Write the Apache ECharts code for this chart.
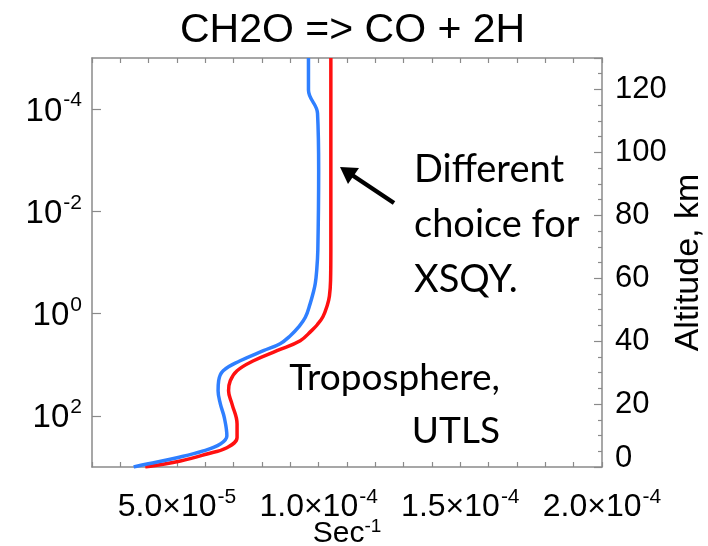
<!DOCTYPE html>
<html><head><meta charset="utf-8">
<script src="https://cdn.jsdelivr.net/npm/echarts@6/dist/echarts.min.js"></script>
<style>html,body{margin:0;padding:0;background:#fff}#c{width:708px;height:546px}</style>
</head><body><div id="c"></div>
<script>
// ---- data ----
const chartTitle = 'CH2O => CO + 2H';
const bluePressure = [1e-5, 4.24e-5, 1.21e-4, 1.57e-3, 5.82e-2, 0.1436, 0.258, 0.387, 0.637, 1.18, 1.86, 2.70, 3.87, 5.31, 8.36, 13.1, 20.6, 32.4, 58.2, 108, 247, 354, 485, 658, 873, 1000];
const blueRate     = [9.64e-5, 9.64e-5, 9.96e-5, 10.0e-5, 9.97e-5, 9.93e-5, 9.88e-5, 9.81e-5, 9.70e-5, 9.53e-5, 9.28e-5, 9.00e-5, 8.64e-5, 8.05e-5, 7.23e-5, 6.63e-5, 6.47e-5, 6.45e-5, 6.53e-5, 6.67e-5, 6.76e-5, 6.53e-5, 5.93e-5, 5.00e-5, 3.94e-5, 3.47e-5];
const redPressure  = [1e-5, 1.57e-3, 5.82e-2, 0.225, 0.45, 0.70, 1.15, 1.65, 2.15, 3.38, 5.31, 8.36, 13.1, 20.6, 32.4, 58.2, 144, 266, 419, 556, 762, 1000];
const redRate      = [10.43e-5, 10.43e-5, 10.43e-5, 10.42e-5, 10.38e-5, 10.30e-5, 10.15e-5, 9.95e-5, 9.75e-5, 9.35e-5, 8.53e-5, 7.70e-5, 7.12e-5, 6.88e-5, 6.82e-5, 6.94e-5, 7.12e-5, 7.12e-5, 6.76e-5, 6.06e-5, 5.12e-5, 3.88e-5];
const rateLabelTicks = [5e-5, 1e-4, 1.5e-4, 2e-4];
const pressureTicks = [1e-4, 1e-2, 1, 1e2];
const noteXsqy = 'Different\nchoice for\nXSQY.';
const noteTropo = 'Troposphere,\nUTLS';

// ---- chart ----
const FONT = '"Liberation Sans", Helvetica, Arial, sans-serif';
const AX = '#8a8a8a';
const chart = echarts.init(document.getElementById('c'), null, {renderer: 'canvas'});

function pair(xs, ys) { return xs.map((x, i) => [x, ys[i]]); }
function sciLabel(v) {
  const e = Math.floor(Math.log10(v) + 1e-9);
  const m = v / Math.pow(10, e);
  return '{b|' + m.toFixed(1) + '×10}{s|' + e + '}';
}
function powLabel(v) {
  const e = Math.round(Math.log10(v));
  return '{b|10}{s|' + e + '}';
}
const richX = {
  b: {fontFamily: FONT, fontSize: 32, color: '#000', lineHeight: 36, verticalAlign: 'bottom'},
  s: {fontFamily: FONT, fontSize: 21, color: '#000', lineHeight: 36, verticalAlign: 'top', padding: [0, 0, 0, 1]}
};
const richY = {
  b: {fontFamily: FONT, fontSize: 33, color: '#000', lineHeight: 38, verticalAlign: 'bottom'},
  s: {fontFamily: FONT, fontSize: 21, color: '#000', lineHeight: 38, verticalAlign: 'top', padding: [0, 0, 0, 1]}
};

const option = {
  backgroundColor: '#fff',
  animation: false,
  title: {
    text: chartTitle, left: 175, top: 5,
    textStyle: {fontFamily: FONT, fontSize: 41, fontWeight: 'normal', color: '#000'}
  },
  grid: {left: 92, right: 106, top: 58, bottom: 79, containLabel: false, outerBoundsMode: 'none'},
  xAxis: [{
    type: 'value', position: 'bottom', min: 2e-5, max: 2e-4, interval: 1e-5,
    axisLine: {show: true, lineStyle: {color: AX, width: 1.5}},
    axisTick: {show: true, inside: true, length: 5, lineStyle: {color: AX, width: 1.2}},
    axisLabel: {customValues: rateLabelTicks, formatter: sciLabel, rich: richX, margin: 20},
    splitLine: {show: false},
    name: '{b|Sec}{s|-1}', nameLocation: 'middle', nameGap: 50, nameMoveOverlap: false,
    nameTextStyle: {rich: {
      b: {fontFamily: FONT, fontSize: 30, color: '#000', lineHeight: 32, verticalAlign: 'bottom'},
      s: {fontFamily: FONT, fontSize: 19, color: '#000', lineHeight: 32, verticalAlign: 'top'}
    }}
  }, {
    type: 'value', position: 'top', min: 2e-5, max: 2e-4, interval: 1e-5,
    axisLine: {show: true, lineStyle: {color: AX, width: 1.5}},
    axisTick: {show: true, inside: true, length: 5, lineStyle: {color: AX, width: 1.2}},
    axisLabel: {show: false}, splitLine: {show: false}
  }],
  yAxis: [{
    type: 'log', logBase: 10, min: 1e-5, max: 1e3, inverse: true, position: 'left',
    axisLine: {show: true, lineStyle: {color: AX, width: 1.5}},
    axisTick: {show: true, inside: true, length: 9, customValues: pressureTicks, lineStyle: {color: AX, width: 1.2}},
    axisLabel: {customValues: pressureTicks, formatter: powLabel, rich: richY, margin: 10},
    splitLine: {show: false}
  }, {
    type: 'value', position: 'right', min: 0, max: 130, interval: 20,
    axisLine: {show: true, lineStyle: {color: AX, width: 1.5}},
    axisTick: {show: true, inside: true, length: 8, lineStyle: {color: AX, width: 1.2}},
    minorTick: {show: true, splitNumber: 4, length: 4, lineStyle: {color: AX, width: 1.2}},
    axisLabel: {
      showMaxLabel: false, margin: 13,
      formatter: v => v === 0 ? '{z|0}' : '{n|' + v + '}',
      rich: {
        n: {fontFamily: FONT, fontSize: 31, color: '#000'},
        z: {fontFamily: FONT, fontSize: 31, color: '#000', padding: [0, 0, 18, 0]}
      }
    },
    splitLine: {show: false},
    name: 'Altitude, km', nameLocation: 'middle', nameRotate: 90, nameGap: 70, nameMoveOverlap: false,
    nameTextStyle: {fontFamily: FONT, fontSize: 34, color: '#000'}
  }],
  series: [{
    type: 'line', name: 'blue', xAxisIndex: 0, yAxisIndex: 0,
    data: pair(blueRate, bluePressure), showSymbol: false, smooth: 0.4,
    lineStyle: {color: '#2f7fff', width: 3.5}, z: 3
  }, {
    type: 'line', name: 'red', xAxisIndex: 0, yAxisIndex: 0,
    data: pair(redRate, redPressure), showSymbol: false, smooth: 0.4,
    lineStyle: {color: '#ff1010', width: 3.5}, z: 2
  }],
  graphic: [
    {type: 'text', left: 414, top: 142, z: 10,
     style: {text: noteXsqy, font: '38px Lato, "Open Sans", sans-serif', fill: '#000', lineHeight: 55}},
    {type: 'text', x: 500, y: 352, z: 10,
     style: {text: noteTropo, font: '37px Lato, "Open Sans", sans-serif', fill: '#000', lineHeight: 53, align: 'right'}},
    {type: 'line', z: 10, shape: {x1: 394, y1: 203, x2: 352, y2: 175},
     style: {stroke: '#000', lineWidth: 4.5}},
    {type: 'polygon', z: 10, shape: {points: [[340, 167], [359, 168], [348, 184]]},
     style: {fill: '#000'}}
  ]
};
chart.setOption(option);
</script>
</body></html>
